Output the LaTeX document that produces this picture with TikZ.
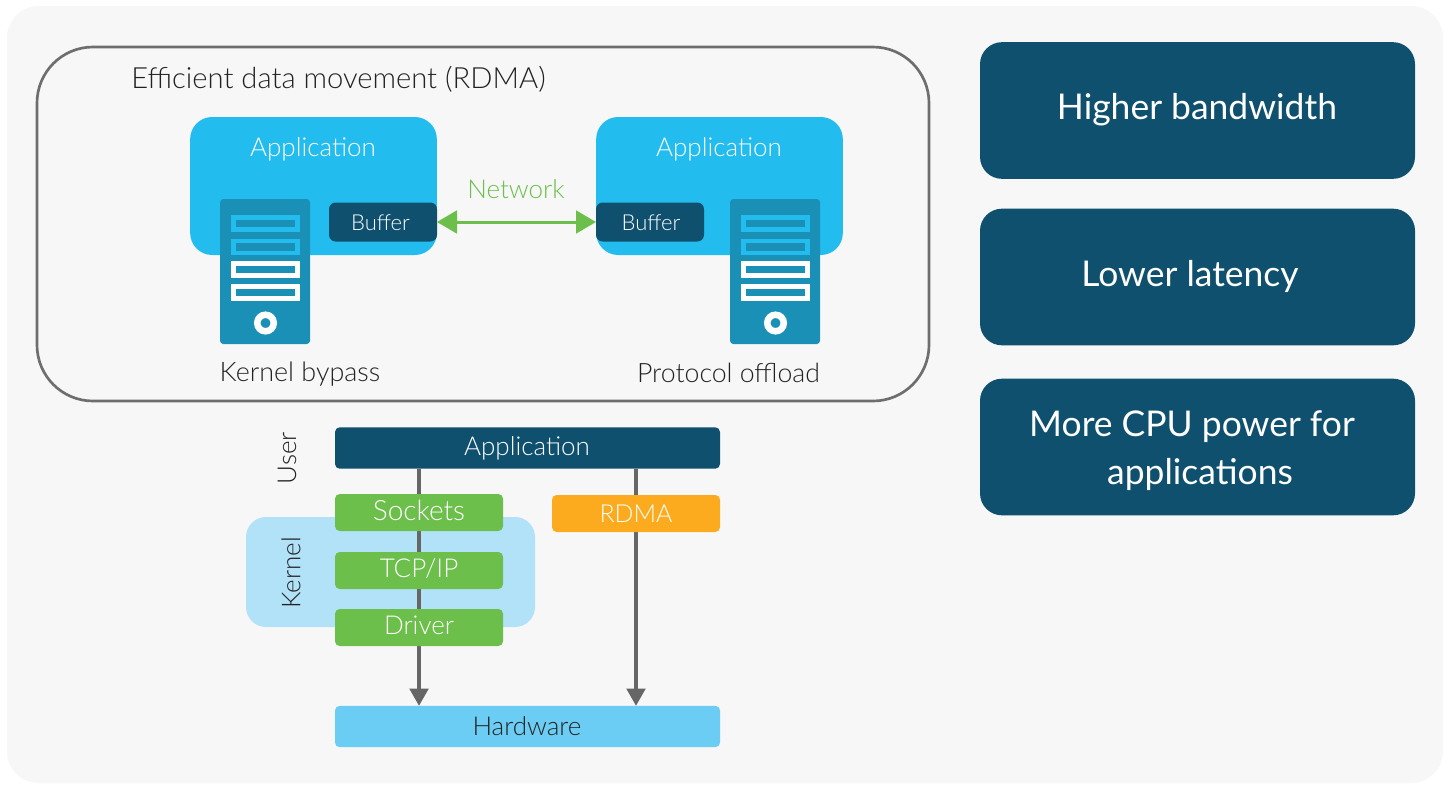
\documentclass[tikz,border=0pt]{standalone}
\usepackage{fontspec}
\setmainfont{Lato Light}
\newfontfamily\medfont{Lato}
\usetikzlibrary{arrows.meta}
\pgfdeclarelayer{bg}
\pgfdeclarelayer{mid}
\pgfsetlayers{bg,mid,main}
\definecolor{navy}{HTML}{10506F}
\definecolor{sky}{HTML}{22BDEE}
\definecolor{srv}{HTML}{1A90B7}
\definecolor{grn}{HTML}{6CBF4B}
\definecolor{org}{HTML}{FCAB1F}
\definecolor{pale}{HTML}{B2E2F8}
\definecolor{hwc}{HTML}{6BCDF3}
\definecolor{panel}{HTML}{F7F7F7}
\definecolor{linegray}{HTML}{666666}
\definecolor{ink}{HTML}{222222}
\newcommand{\fs}[1]{\fontsize{#1}{#1}\selectfont}
\tikzset{
  x=.75pt,y=-.75pt,
  box/.style={rectangle,inner sep=0pt,outer sep=0pt,text=white,font=\fs{19.5}},
  appbox/.style={box,fill=sky,rounded corners=16.5pt,minimum width=185pt,minimum height=103.5pt},
  bufbox/.style={box,fill=navy,rounded corners=5pt,minimum width=81pt,minimum height=29.25pt,font=\fs{16.5}},
  serverbox/.style={box,fill=srv,rounded corners=2.5pt,minimum width=67.5pt,minimum height=108.75pt},
  slot/.style={rectangle,draw=#1,fill=srv,line width=3.6pt,inner sep=0pt,minimum width=48pt,minimum height=9pt},
  knob/.style={circle,draw=white,fill=srv,line width=4.9pt,inner sep=0pt,minimum size=12.4pt},
  stackbox/.style={box,fill=grn,rounded corners=3.5pt,minimum width=126pt,minimum height=27.75pt},
  widebox/.style={box,rounded corners=3.5pt,minimum width=288.75pt,minimum height=31pt},
  sidebox/.style={box,fill=navy,rounded corners=16.5pt,minimum width=326.25pt,minimum height=102.5pt},
  sidetext/.style={box,font=\medfont\fs{26.6},align=center},
  label/.style={inner sep=0pt,text=ink,font=\fs{19.5}},
  flow/.style={draw=linegray,line width=2.5pt,-{Triangle[length=13pt,width=14pt]}},
  netflow/.style={draw=grn,line width=2.25pt,{Triangle[length=15pt,width=17pt]}-{Triangle[length=15pt,width=17pt]}}
}
\begin{document}
\begin{tikzpicture}
\useasboundingbox (0,0) rectangle (1451,789);
\begin{pgfonlayer}{bg}
\fill[white] (0,0) rectangle (1451,789);
\fill[panel,rounded corners=24pt] (7,6) rectangle (1443,783);
\node[box,fill=pale,rounded corners=15pt,minimum width=216.75pt,minimum height=82.5pt] (kernel) at (390.5,572) {};
\end{pgfonlayer}
\draw[linegray!95,line width=2pt,rounded corners=42pt] (37,47) rectangle (929,401);
\node[label,anchor=west,font=\fs{21.9}] (title) at (131,79) {Efficient data movement (RDMA)};
% left host
\node[appbox] (appL) at (313.5,186) {};
\node[label,text=white] (appLt) at (313,149) {Application};
\node[serverbox] (srvL) at (265,271.5) {};
\foreach \y/\c/\n in {223.5/sky/a,247/sky/b,269.5/white/c,292.5/white/d}
  \node[slot=\c] (slotL\n) at (265.5,\y) {};
\node[knob] (knobL) at (265.5,323) {};
\node[bufbox] (bufL) at (383,222) {};
\node[box,font=\fs{16.5}] (bufLt) at (380.5,223) {Buffer};
% right host
\node[appbox] (appR) at (719.5,186) {};
\node[label,text=white] (appRt) at (719,149) {Application};
\node[serverbox] (srvR) at (775,271.5) {};
\foreach \y/\c/\n in {223.5/sky/a,247/sky/b,269.5/white/c,292.5/white/d}
  \node[slot=\c] (slotR\n) at (775.5,\y) {};
\node[knob] (knobR) at (775.5,323) {};
\node[bufbox] (bufR) at (650,222) {};
\node[box,font=\fs{16.5}] (bufRt) at (651,223) {Buffer};
\draw[netflow] (bufL.east) -- (bufR.west);
\node[label,text=grn] (net) at (516,189) {Network};
\node[label,font=\fs{20.2}] (kb) at (300,374) {Kernel bypass};
\node[label,font=\fs{20}] (po) at (728.5,372.5) {Protocol offload};
% stack
\node[widebox,fill=navy] (app) at (527.5,448) {};
\node[box] (appt) at (527,448) {Application};
\node[stackbox] (sock) at (419,512.5) {};
\node[stackbox] (tcp) at (419,570.5) {};
\node[stackbox] (drv) at (419,627.5) {};
\node[widebox,fill=hwc] (hw) at (527.5,726.5) {};
\node[stackbox,fill=org] (rdma) at (636,513.5) {};
\begin{pgfonlayer}{mid}
\draw[flow] (sock |- app.south) -- (sock |- hw.north);
\draw[flow] (rdma |- app.south) -- (rdma |- hw.north);
\end{pgfonlayer}
\node[label] (hwt) at (527,726) {Hardware};
\node[label,text=white,font=\fs{21}] (sockt) at (419,510) {Sockets};
\node[label,text=white] (tcpt) at (419,569) {TCP/IP};
\node[label,text=white] (drvt) at (419,625) {Driver};
\node[label,text=white,font=\fs{18.6}] (rdmat) at (636,514) {RDMA};
\node[label,rotate=90] (user) at (287,458) {User};
\node[label,rotate=90] (kern) at (291,573) {Kernel};
% right column
\node[sidebox] (s1) at (1197.5,110.5) {};
\node[sidetext] (s1t) at (1197,110) {Higher bandwidth};
\node[sidebox] (s2) at (1197.5,277) {};
\node[sidetext] (s2t) at (1190,276) {Lower latency};
\node[sidebox] (s3) at (1197.5,447) {};
\node[sidetext] (s3t) at (1196,450.5) {More CPU power for\hspace*{6pt}\\[9.5pt]\hspace*{6pt}applications};
\end{tikzpicture}
\end{document}
